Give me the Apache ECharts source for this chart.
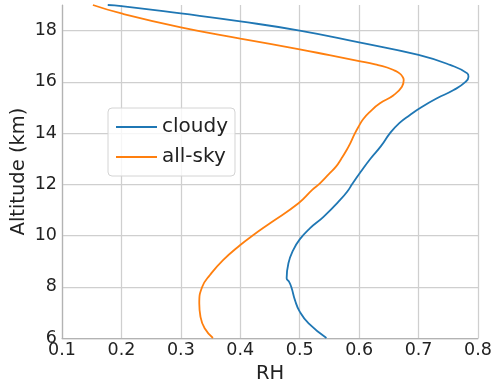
<!DOCTYPE html>
<html>
<head>
<meta charset="utf-8">
<script src="https://cdn.jsdelivr.net/npm/echarts@6/dist/echarts.min.js"></script>
<style>html,body{margin:0;padding:0;background:#fff}#c{width:491px;height:390px}</style>
</head>
<body>
<div id="c"></div>
<script>
const cloudyRH  = [0.545,0.515,0.500,0.492,0.486,0.482,0.478,0.481,0.489,0.500,0.517,0.540,0.568,0.582,0.588,0.603,0.619,0.637,0.652,0.668,0.685,0.704,0.731,0.759,0.779,0.784,0.782,0.753,0.700,0.600,0.500,0.400,0.300,0.200,0.177];
const cloudyAlt = [6.00,6.57,7.03,7.48,7.98,8.20,8.33,8.92,9.43,9.85,10.28,10.73,11.39,11.78,12.00,12.50,13.00,13.50,14.00,14.40,14.70,15.00,15.36,15.68,16.00,16.20,16.33,16.66,17.05,17.54,18.00,18.36,18.67,18.96,19.00];
const allSkyRH  = [0.354,0.340,0.333,0.331,0.336,0.349,0.371,0.400,0.422,0.450,0.498,0.521,0.534,0.549,0.561,0.570,0.578,0.585,0.592,0.599,0.607,0.619,0.635,0.658,0.672,0.675,0.673,0.668,0.659,0.647,0.627,0.600,0.550,0.500,0.400,0.300,0.200,0.152];
const allSkyAlt = [6.00,6.38,6.83,7.35,8.00,8.46,9.04,9.63,10.02,10.48,11.26,11.78,12.04,12.40,12.69,13.00,13.30,13.60,13.95,14.25,14.55,14.85,15.16,15.48,15.81,16.07,16.20,16.33,16.45,16.56,16.68,16.81,17.04,17.27,17.69,18.13,18.67,19.00];
const seriesNames = ['cloudy','all-sky'];
const xTicks = [0.1,0.2,0.3,0.4,0.5,0.6,0.7,0.8];
const yTicks = [6,8,10,12,14,16,18];

const pair = (xs, ys) => xs.map((v, i) => [v, ys[i]]);
const font = 'DejaVu Sans';
const chart = echarts.init(document.getElementById('c'), null, {renderer: 'canvas'});
chart.setOption({
  animation: false,
  backgroundColor: '#ffffff',
  grid: {left: 62, right: 13, top: 5, bottom: 52, containLabel: false, outerBoundsMode: 'none'},
  xAxis: {
    type: 'value', min: xTicks[0], max: xTicks[xTicks.length - 1], interval: 0.1,
    name: 'RH', nameLocation: 'middle', nameGap: 26, nameMoveOverlap: false,
    nameTextStyle: {fontFamily: font, fontSize: 19.5, color: '#222'},
    axisLine: {show: true, lineStyle: {color: '#b3b3b3', width: 1.25}},
    axisTick: {show: false},
    axisLabel: {fontFamily: font, fontSize: 17.5, color: '#222', margin: 3,
      formatter: v => (Math.round(v * 10) / 10).toFixed(1)},
    splitLine: {show: true, lineStyle: {color: '#cfcfcf', width: 1.25}}
  },
  yAxis: {
    type: 'value', min: 6, max: 19, interval: 2,
    name: 'Altitude (km)', nameLocation: 'middle', nameGap: 33, nameMoveOverlap: false,
    nameTextStyle: {fontFamily: font, fontSize: 19.5, color: '#222'},
    axisLine: {show: true, lineStyle: {color: '#b3b3b3', width: 1.25}},
    axisTick: {show: false},
    axisLabel: {fontFamily: font, fontSize: 17.5, color: '#222', margin: 5, showMaxLabel: false,
      formatter: v => (yTicks.indexOf(v) >= 0 ? String(v) : '')},
    splitLine: {show: true, showMaxLine: false, lineStyle: {color: '#cfcfcf', width: 1.25}}
  },
  legend: {
    orient: 'vertical', left: 108, top: 108,
    data: seriesNames,
    icon: 'rect', itemWidth: 41, itemHeight: 2, itemGap: 8, itemTextGap: 3,
    padding: [8, 7, 8, 8],
    textStyle: {fontFamily: font, fontSize: 20, color: '#222', lineHeight: 22},
    backgroundColor: 'rgba(255,255,255,0.8)',
    borderColor: '#d4d4d4', borderWidth: 1, borderRadius: 4
  },
  series: [
    {name: seriesNames[0], type: 'line', data: pair(cloudyRH, cloudyAlt), smooth: 0.5,
     showSymbol: false, symbol: 'none', color: '#1f77b4', lineStyle: {width: 1.8, color: '#1f77b4'}},
    {name: seriesNames[1], type: 'line', data: pair(allSkyRH, allSkyAlt), smooth: 0.5,
     showSymbol: false, symbol: 'none', color: '#ff7f0e', lineStyle: {width: 1.8, color: '#ff7f0e'}}
  ]
});
</script>
</body>
</html>
